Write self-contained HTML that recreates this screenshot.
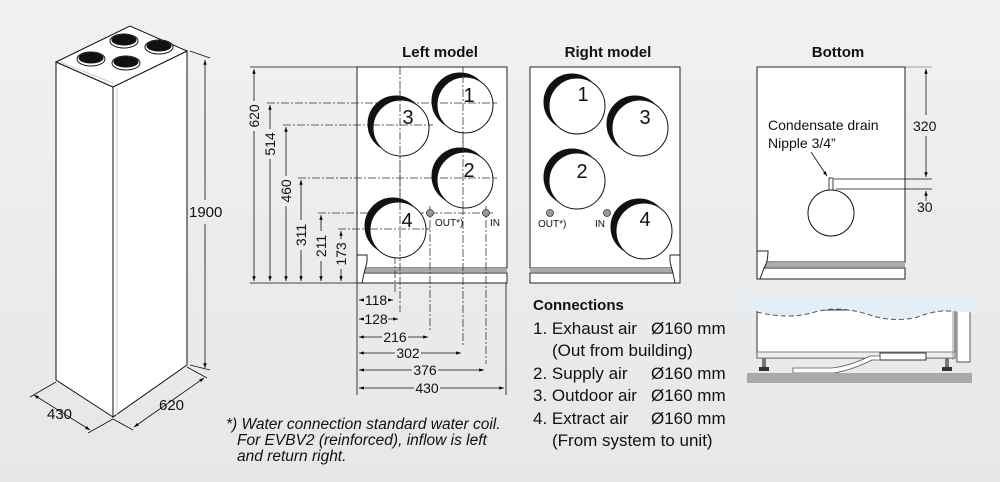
<!DOCTYPE html>
<html><head><meta charset="utf-8"><style>
html,body{margin:0;padding:0;width:1000px;height:482px;overflow:hidden}
body{background:#ececec}
svg{display:block;font-family:"Liberation Sans",sans-serif}
</style></head><body>
<svg width="1000" height="482" viewBox="0 0 1000 482" xmlns="http://www.w3.org/2000/svg">
<defs>
<marker id="a" viewBox="0 0 10 10" refX="10" refY="5" markerWidth="6" markerHeight="6" orient="auto-start-reverse"><path d="M0,1.5 L10,5 L0,8.5z" fill="#000"/></marker>
<linearGradient id="bg" x1="0" y1="0" x2="0" y2="1"><stop offset="0" stop-color="#f1f1f1"/><stop offset="1" stop-color="#e7e7e7"/></linearGradient>
</defs>
<rect width="1000" height="482" fill="url(#bg)"/>

<!-- Tower -->
<g stroke="#111" stroke-width="1" fill="#fff">
<polygon points="56,62 113,87 113,417 56,380"/>
<polygon points="113,87 187,51 187,365 113,417"/>
<polygon points="56,62 130,26 187,51 113,87"/>
</g>
<line x1="117" y1="88" x2="117" y2="415" stroke="#ccc"/>
<line x1="60" y1="62" x2="113" y2="83" stroke="#ccc"/>
<g stroke="#111" stroke-width="1">
<ellipse cx="91" cy="59" rx="14" ry="7" fill="#fff"/><ellipse cx="91" cy="58" rx="12" ry="5" fill="#111"/>
<ellipse cx="124" cy="41" rx="14" ry="7" fill="#fff"/><ellipse cx="124" cy="40" rx="12" ry="5" fill="#111"/>
<ellipse cx="159" cy="47" rx="14" ry="7" fill="#fff"/><ellipse cx="159" cy="46" rx="12" ry="5" fill="#111"/>
<ellipse cx="126" cy="63" rx="14" ry="7" fill="#fff"/><ellipse cx="126" cy="62" rx="12" ry="5" fill="#111"/>
</g>
<g stroke="#111" stroke-width="0.8" fill="none">
<line x1="190" y1="51" x2="210" y2="58"/><line x1="190" y1="365" x2="210" y2="370"/>
<line x1="205" y1="60" x2="205" y2="200" marker-start="url(#a)"/>
<line x1="205" y1="224" x2="205" y2="368" marker-end="url(#a)"/>
<line x1="56" y1="382" x2="30" y2="397"/><line x1="113" y1="419" x2="88" y2="433"/>
<line x1="34" y1="395" x2="90" y2="430" marker-start="url(#a)" marker-end="url(#a)"/>
<line x1="113" y1="419" x2="133" y2="430"/><line x1="187" y1="367" x2="207" y2="378"/>
<line x1="204" y1="378" x2="134" y2="427" marker-start="url(#a)" marker-end="url(#a)"/>
</g>
<g font-size="15" fill="#111">
<text x="189" y="217">1900</text>
<text x="47" y="419">430</text>
<text x="159" y="410">620</text>
</g>

<!-- Headings -->
<g font-size="15" font-weight="bold" fill="#111" text-anchor="middle">
<text x="440" y="57">Left model</text>
<text x="608" y="57">Right model</text>
<text x="838" y="57">Bottom</text>
</g>

<!-- Left model -->
<rect x="357" y="67" width="150" height="201" fill="#fff" stroke="#222"/>
<rect x="357" y="268" width="150" height="4" fill="#aaa"/>
<rect x="357" y="273" width="150" height="10" fill="#fff" stroke="#222"/>
<path d="M357,255 H367 V262 Q364,272 362,283 H357 Z" fill="#fff" stroke="#222"/>
<g stroke="#333" stroke-width="0.8" stroke-dasharray="8,2,2,2" fill="none">
<line x1="400" y1="67" x2="400" y2="312"/><line x1="463" y1="67" x2="463" y2="347"/>
<line x1="395" y1="200" x2="395" y2="294"/>
<line x1="430" y1="206" x2="430" y2="331"/><line x1="486" y1="206" x2="486" y2="364"/>
<line x1="267" y1="103" x2="497" y2="103"/><line x1="283" y1="125" x2="433" y2="125"/>
<line x1="298" y1="178" x2="497" y2="178"/><line x1="318" y1="213" x2="493" y2="213"/>
<line x1="338" y1="229" x2="430" y2="229"/>
</g>
<g stroke="#111" stroke-width="1">
<circle cx="460" cy="101" r="28" fill="#111"/><circle cx="465" cy="105" r="28" fill="#fff"/>
<circle cx="396" cy="124" r="28" fill="#111"/><circle cx="401" cy="128" r="28" fill="#fff"/>
<circle cx="460" cy="176" r="28" fill="#111"/><circle cx="465" cy="180" r="28" fill="#fff"/>
<circle cx="393" cy="226" r="28" fill="#111"/><circle cx="398" cy="230" r="28" fill="#fff"/>
</g>
<g stroke="#333" stroke-width="0.8" stroke-dasharray="8,2,2,2" fill="none">
<line x1="400" y1="90" x2="400" y2="260"/><line x1="463" y1="75" x2="463" y2="210"/>
<line x1="440" y1="103" x2="497" y2="103"/><line x1="372" y1="125" x2="433" y2="125"/>
<line x1="440" y1="178" x2="497" y2="178"/><line x1="370" y1="229" x2="430" y2="229"/>
</g>
<circle cx="430" cy="213" r="3.5" fill="#999" stroke="#333" stroke-width="0.8"/>
<circle cx="486" cy="213" r="3.5" fill="#999" stroke="#333" stroke-width="0.8"/>
<g font-size="20" fill="#111" text-anchor="middle">
<text x="469" y="102">1</text><text x="408" y="124">3</text><text x="469" y="177">2</text><text x="407" y="227">4</text>
</g>
<g font-size="10" fill="#111"><text x="435" y="226">OUT*)</text><text x="490" y="226">IN</text></g>

<!-- left dims vertical -->
<g stroke="#111" stroke-width="0.8" fill="none">
<line x1="250" y1="67" x2="357" y2="67"/><line x1="250" y1="283" x2="357" y2="283"/>
<line x1="254" y1="69" x2="254" y2="101" marker-start="url(#a)"/><line x1="254" y1="131" x2="254" y2="281" marker-end="url(#a)"/>
<line x1="270" y1="105" x2="270" y2="129" marker-start="url(#a)"/><line x1="270" y1="159" x2="270" y2="281" marker-end="url(#a)"/>
<line x1="286" y1="127" x2="286" y2="176" marker-start="url(#a)"/><line x1="286" y1="206" x2="286" y2="281" marker-end="url(#a)"/>
<line x1="301" y1="180" x2="301" y2="220" marker-start="url(#a)"/><line x1="301" y1="250" x2="301" y2="281" marker-end="url(#a)"/>
<line x1="321" y1="215" x2="321" y2="231" marker-start="url(#a)"/><line x1="321" y1="261" x2="321" y2="281" marker-end="url(#a)"/>
<line x1="341" y1="231" x2="341" y2="239" marker-start="url(#a)"/><line x1="341" y1="269" x2="341" y2="281" marker-end="url(#a)"/>
<line x1="357" y1="283" x2="357" y2="395"/><line x1="506" y1="283" x2="506" y2="395"/>
<line x1="359" y1="300" x2="364" y2="300" marker-start="url(#a)"/><line x1="388" y1="300" x2="393" y2="300" marker-end="url(#a)"/>
<line x1="359" y1="319" x2="364" y2="319" marker-start="url(#a)"/><line x1="388" y1="319" x2="398" y2="319" marker-end="url(#a)"/>
<line x1="359" y1="337" x2="382" y2="337" marker-start="url(#a)"/><line x1="408" y1="337" x2="428" y2="337" marker-end="url(#a)"/>
<line x1="359" y1="353" x2="395" y2="353" marker-start="url(#a)"/><line x1="421" y1="353" x2="461" y2="353" marker-end="url(#a)"/>
<line x1="359" y1="370" x2="412" y2="370" marker-start="url(#a)"/><line x1="438" y1="370" x2="484" y2="370" marker-end="url(#a)"/>
<line x1="359" y1="388" x2="414" y2="388" marker-start="url(#a)"/><line x1="440" y1="388" x2="504" y2="388" marker-end="url(#a)"/>
</g>
<g font-size="14" fill="#111" text-anchor="middle">
<text transform="translate(259,116) rotate(-90)">620</text>
<text transform="translate(275,144) rotate(-90)">514</text>
<text transform="translate(291,191) rotate(-90)">460</text>
<text transform="translate(306,235) rotate(-90)">311</text>
<text transform="translate(326,246) rotate(-90)">211</text>
<text transform="translate(346,254) rotate(-90)">173</text>
<text x="376" y="305">118</text>
<text x="376" y="324">128</text>
<text x="395" y="342">216</text>
<text x="408" y="358">302</text>
<text x="425" y="375">376</text>
<text x="427" y="393">430</text>
</g>

<!-- Right model -->
<rect x="530" y="67" width="150" height="201" fill="#fff" stroke="#222"/>
<rect x="530" y="268" width="150" height="4" fill="#aaa"/>
<rect x="530" y="273" width="150" height="10" fill="#fff" stroke="#222"/>
<path d="M680,255 H670 V262 Q673,272 675,283 H680 Z" fill="#fff" stroke="#222"/>
<g stroke="#111" stroke-width="1">
<circle cx="572" cy="102" r="28" fill="#111"/><circle cx="577" cy="106" r="28" fill="#fff"/>
<circle cx="635" cy="124" r="28" fill="#111"/><circle cx="640" cy="128" r="28" fill="#fff"/>
<circle cx="572" cy="177" r="28" fill="#111"/><circle cx="577" cy="181" r="28" fill="#fff"/>
<circle cx="639" cy="227" r="28" fill="#111"/><circle cx="644" cy="231" r="28" fill="#fff"/>
</g>
<g font-size="20" fill="#111" text-anchor="middle">
<text x="583" y="101">1</text><text x="645" y="124">3</text><text x="582" y="178">2</text><text x="645" y="226">4</text>
</g>
<circle cx="550" cy="213" r="3.5" fill="#999" stroke="#333" stroke-width="0.8"/>
<circle cx="607" cy="213" r="3.5" fill="#999" stroke="#333" stroke-width="0.8"/>
<g font-size="10" fill="#111"><text x="538" y="227">OUT*)</text><text x="595" y="227">IN</text></g>

<!-- Bottom -->
<rect x="757" y="67" width="148" height="195" fill="#fff" stroke="#222"/>
<rect x="757" y="262" width="148" height="5" fill="#aaa"/>
<rect x="757" y="268" width="148" height="11" fill="#fff" stroke="#222"/>
<path d="M757,251 H768 Q768,262 764,268 L760,279 H757 Z" fill="#fff" stroke="#222"/>
<circle cx="831" cy="213" r="23" fill="#fff" stroke="#111"/>
<rect x="829" y="178" width="4" height="12" fill="#fff" stroke="#111" stroke-width="0.8"/>
<g stroke="#111" stroke-width="0.8" fill="none">
<line x1="905" y1="67" x2="932" y2="67" stroke="#888"/>
<line x1="834" y1="179" x2="932" y2="179"/><line x1="836" y1="189" x2="932" y2="189"/>
<line x1="926" y1="69" x2="926" y2="115" marker-start="url(#a)"/>
<line x1="926" y1="136" x2="926" y2="177" marker-end="url(#a)"/>
<line x1="926" y1="201" x2="926" y2="191" marker-end="url(#a)"/>
<line x1="811" y1="152" x2="827" y2="176" marker-end="url(#a)"/>
</g>
<g font-size="14" fill="#111">
<text x="913" y="131">320</text><text x="917" y="212">30</text>
<text x="768" y="130">Condensate drain</text><text x="768" y="148">Nipple 3/4”</text>
</g>

<!-- side view -->
<rect x="757" y="310" width="198" height="48" fill="#fff" stroke="#333"/>
<rect x="757" y="352" width="198" height="6" fill="#eee" stroke="#555" stroke-width="0.7"/>
<rect x="957" y="310" width="13" height="52" fill="#fff" stroke="#555"/>
<line x1="953" y1="310" x2="953" y2="360" stroke="#999"/>
<path d="M745,297 H976 V313 Q940,308 915,318 Q890,322 870,315 Q840,305 815,312 Q790,320 757,311 H745 Z" fill="#e2eff9"/>
<path d="M757,312 Q790,320 815,312 Q840,305 870,315 Q890,322 915,318 Q940,308 955,312" fill="none" stroke="#555" stroke-dasharray="5,3"/>
<rect x="880" y="353" width="46" height="7" fill="#fff" stroke="#333"/>
<path d="M793,368 H832 Q850,366 870,356 H880 V360 H872 Q852,370 834,373 H793 Z" fill="#fff" stroke="#555" stroke-width="0.8"/>
<rect x="762" y="358" width="4" height="10" fill="#777"/><rect x="759" y="367" width="10" height="4" fill="#333"/>
<rect x="945" y="358" width="4" height="10" fill="#777"/><rect x="942" y="367" width="10" height="4" fill="#333"/>
<rect x="747" y="373" width="225" height="10" fill="#a9a9a9"/>

<!-- Connections -->
<text x="533" y="310" font-size="15" font-weight="bold" fill="#111">Connections</text>
<g font-size="17" fill="#111">
<text x="533" y="334">1. Exhaust air</text><text x="651" y="334">Ø160 mm</text>
<text x="552" y="356">(Out from building)</text>
<text x="533" y="379">2. Supply air</text><text x="651" y="379">Ø160 mm</text>
<text x="533" y="401">3. Outdoor air</text><text x="651" y="401">Ø160 mm</text>
<text x="533" y="424">4. Extract air</text><text x="651" y="424">Ø160 mm</text>
<text x="552" y="446">(From system to unit)</text>
</g>
<g font-size="15.5" font-style="italic" fill="#111">
<text x="226" y="429">*) Water connection standard water coil.</text>
<text x="237" y="445">For EVBV2 (reinforced), inflow is left</text>
<text x="237" y="461">and return right.</text>
</g>
</svg>
</body></html>
